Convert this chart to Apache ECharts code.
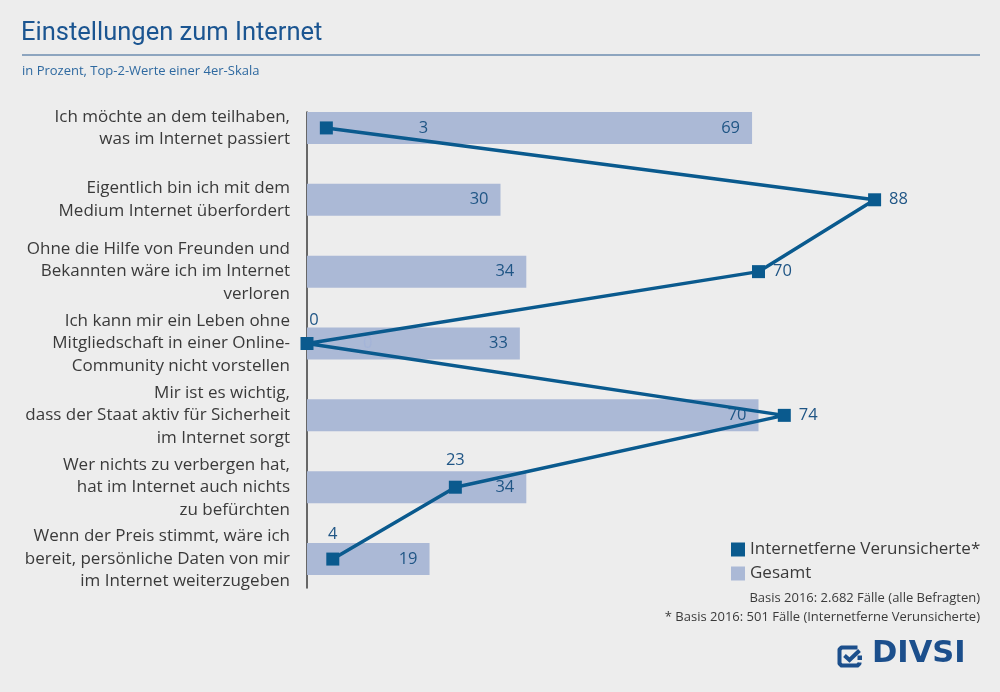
<!DOCTYPE html>
<html>
<head>
<meta charset="utf-8">
<script src="https://cdn.jsdelivr.net/npm/echarts@6/dist/echarts.min.js"></script>
<style>
html,body{margin:0;padding:0;background:#ededed;}
#c{width:1000px;height:692px;}
</style>
</head>
<body>
<div id="c"></div>
<script>
const categories = [
  "Ich möchte an dem teilhaben,\nwas im Internet passiert",
  "Eigentlich bin ich mit dem\nMedium Internet überfordert",
  "Ohne die Hilfe von Freunden und\nBekannten wäre ich im Internet\nverloren",
  "Ich kann mir ein Leben ohne\nMitgliedschaft in einer Online-\nCommunity nicht vorstellen",
  "Mir ist es wichtig,\ndass der Staat aktiv für Sicherheit\nim Internet sorgt",
  "Wer nichts zu verbergen hat,\nhat im Internet auch nichts\nzu befürchten",
  "Wenn der Preis stimmt, wäre ich\nbereit, persönliche Daten von mir\nim Internet weiterzugeben"
];
const gesamt = [69, 30, 34, 33, 70, 34, 19];
const internetferne = [3, 88, 70, 0, 74, 23, 4];
const seriesNames = ["Internetferne Verunsicherte*", "Gesamt"];

const FONT = "'Open Sans', Roboto, sans-serif";
const TFONT = "Roboto, 'Open Sans', sans-serif";
const LINE = '#0a5a8e';
const BAR = '#abb9d6';
const TXT = '#3a3a3a';
const LBL = '#1f5585';
const LOGO = '#1c4f8c';

// per-point label placement for the line series
const lineLabelPos = [
  {position: 'right', distance: 86},
  {position: 'right', distance: 8},
  {position: 'right', distance: 8},
  {position: 'top', distance: 8, offset: [7, 0]},
  {position: 'right', distance: 8},
  {position: 'top', distance: 12},
  {position: 'top', distance: 10}
];

const chart = echarts.init(document.getElementById('c'));
chart.setOption({
  backgroundColor: '#ededed',
  textStyle: {fontFamily: FONT},
  title: [
    {text: 'Einstellungen zum Internet', left: 21, top: 21, padding: 0,
     textStyle: {fontSize: 25.5, fontWeight: 'normal', color: '#1b5591', fontFamily: TFONT}},
    {text: 'in Prozent, Top-2-Werte einer 4er-Skala', left: 22, top: 65, padding: 0,
     textStyle: {fontSize: 13, fontWeight: 'normal', color: '#2e69a0', fontFamily: FONT}}
  ],
  legend: {
    data: seriesNames.map(n => ({name: n, icon: 'rect'})),
    orient: 'vertical',
    left: 726, top: 536,
    itemWidth: 14, itemHeight: 14, itemGap: 7,
    textStyle: {fontSize: 17, color: TXT, fontFamily: FONT},
    selectedMode: false
  },
  grid: [
    {left: 307, right: 48, top: 92, bottom: 97},
    {left: 307, right: 48, top: 112, bottom: 104}
  ],
  xAxis: [
    {type: 'value', min: 0, max: 100, gridIndex: 0, show: false},
    {type: 'value', min: 0, max: 100, gridIndex: 1, show: false}
  ],
  yAxis: [
    {type: 'category', data: categories, inverse: true, gridIndex: 0,
     axisLine: {show: false}, axisTick: {show: false},
     axisLabel: {fontSize: 17, lineHeight: 22.5, color: TXT, margin: 17, fontFamily: FONT, align: 'right'}},
    {type: 'value', gridIndex: 1, min: 0, max: 1,
     axisLine: {show: true, lineStyle: {color: '#3a3a3a', width: 1.5}},
     axisTick: {show: false}, axisLabel: {show: false}, splitLine: {show: false}}
  ],
  series: [
    {
      name: seriesNames[1], type: 'bar', data: gesamt, barWidth: 32,
      xAxisIndex: 0, yAxisIndex: 0,
      itemStyle: {color: BAR},
      label: {show: true, position: 'insideRight', distance: 12, fontSize: 16.5, color: LBL, fontFamily: FONT},
      z: 2
    },
    {
      name: 'ghost', type: 'scatter', xAxisIndex: 0, yAxisIndex: 0,
      data: internetferne.map((v, i) => v === 0 ? v : null),
      symbolSize: 0, silent: true,
      label: {show: true, position: 'right', distance: 56, fontSize: 16.5, color: '#a2b3d8', fontFamily: FONT},
      z: 3
    },
    {
      name: seriesNames[0], type: 'line', data: internetferne.map((v, i) => ({value: v, label: lineLabelPos[i]})),
      xAxisIndex: 0, yAxisIndex: 0,
      symbol: 'rect', symbolSize: 13, showAllSymbol: true,
      lineStyle: {color: LINE, width: 3.5},
      itemStyle: {color: LINE},
      label: {show: true, fontSize: 16.5, color: LBL, fontFamily: FONT},
      z: 5
    }
  ],
  graphic: [
    {type: 'line', shape: {x1: 22, y1: 55, x2: 980, y2: 55}, style: {stroke: '#2e5f91', lineWidth: 1.2}},
    {type: 'text', right: 20, top: 592, style: {text: 'Basis 2016: 2.682 Fälle (alle Befragten)', font: '13px ' + FONT, fill: TXT, textAlign: 'right'}},
    {type: 'text', right: 20, top: 611, style: {text: '* Basis 2016: 501 Fälle (Internetferne Verunsicherte)', font: '13px ' + FONT, fill: TXT, textAlign: 'right'}},
    {type: 'group', left: 837, top: 645, children: [
      {type: 'polyline', shape: {points: [[20, 2], [4, 2], [2, 4], [2, 18], [4, 20], [20, 20], [22, 18], [22, 17]]},
       style: {stroke: LOGO, lineWidth: 4, fill: null, lineJoin: 'round'}},
      {type: 'polyline', shape: {points: [[7, 10], [12, 14.5], [22, 5]]},
       style: {stroke: LOGO, lineWidth: 4, fill: null}},
      {type: 'rect', shape: {x: 20, y: 10, width: 4.5, height: 4.5}, style: {fill: LOGO}}
    ]},
    {type: 'text', left: 872, top: 639, style: {text: 'DIVSI', font: 'bold 30.5px "DejaVu Sans"', fill: LOGO}}
  ]
});
</script>
</body>
</html>
